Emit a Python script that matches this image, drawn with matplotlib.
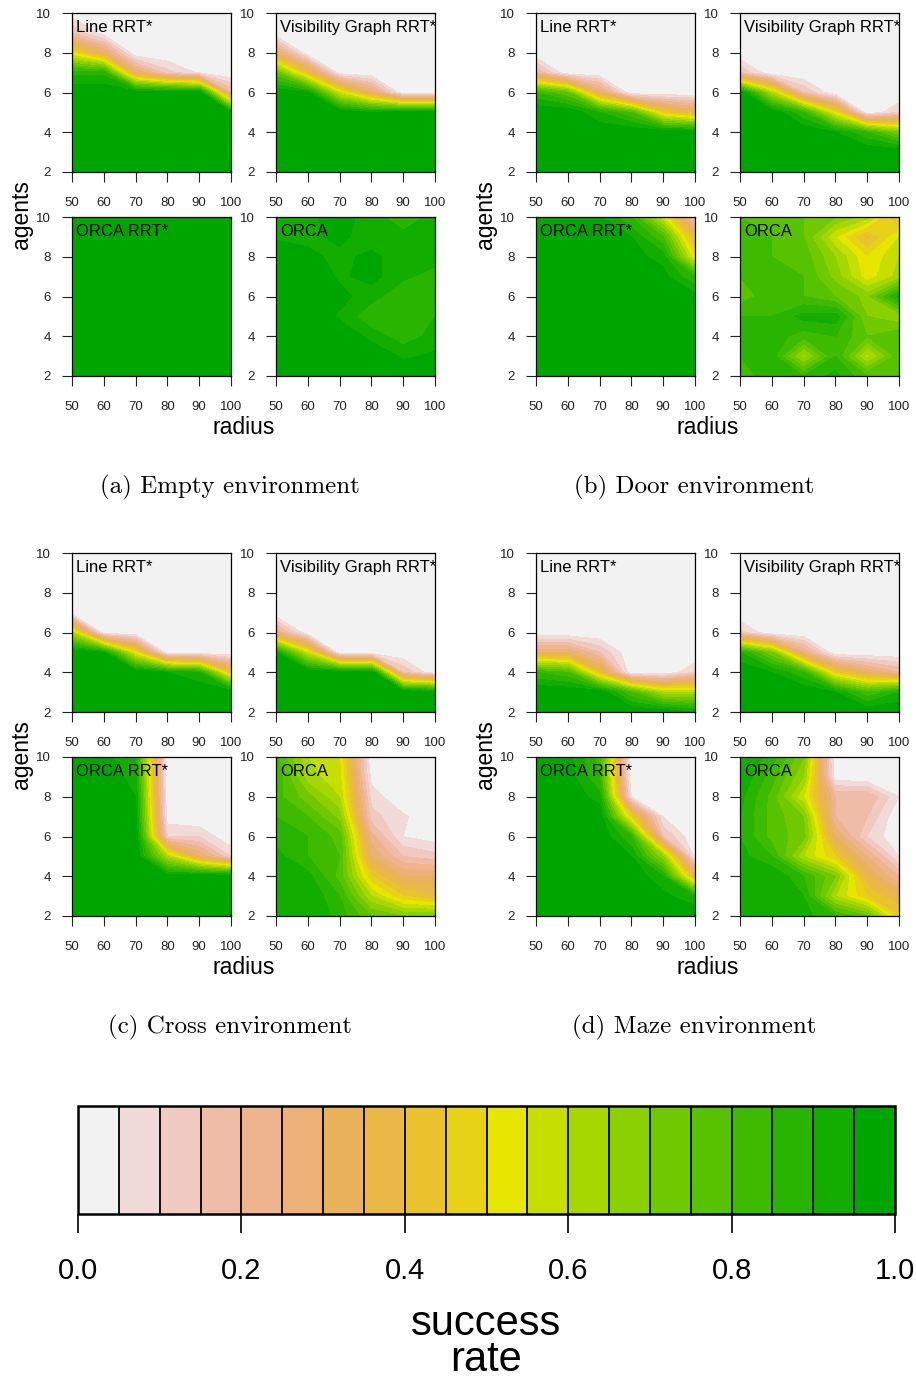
import colorsys
import numpy as np
import matplotlib
matplotlib.use("Agg")
import matplotlib.pyplot as plt
from matplotlib.colors import ListedColormap, BoundaryNorm
import matplotlib.cm as cm

plt.rcParams['font.family'] = ['Liberation Sans', 'DejaVu Sans']

radius = [50, 60, 70, 80, 90, 100]
agents = [2, 3, 4, 5, 6, 7, 8, 9, 10]

# success rate, one row per agent count (2 .. 10), one column per radius (50 .. 100)
empty_line = [
    [1, 1, 1, 1, 1, 1],
    [1, 1, 1, 1, 1, 1],
    [1, 1, 1, 1, 1, 1],
    [1, 1, 1, 1, 1, 0.95],
    [1, 1, 1, 1, 1, 0.2],
    [0.88, 0.88, 0.3, 0.12, 0.04, 0],
    [0.5, 0.3, 0, 0, 0, 0],
    [0.15, 0.02, 0, 0, 0, 0],
    [0.02, 0, 0, 0, 0, 0],
]
empty_vg = [
    [1, 1, 1, 1, 1, 1],
    [1, 1, 1, 1, 1, 1],
    [1, 1, 1, 1, 1, 1],
    [1, 1, 1, 0.95, 1, 1],
    [1, 0.95, 0.55, 0.3, 0, 0],
    [0.75, 0.4, 0.02, 0, 0, 0],
    [0.3, 0, 0, 0, 0, 0],
    [0, 0, 0, 0, 0, 0],
    [0, 0, 0, 0, 0, 0],
]
empty_orca_rrt = [[1, 1, 1, 1, 1, 1] for _ in agents]
empty_orca = [
    [1, 1, 1, 1, 1, 1],
    [1, 1, 1, 1, 0.94, 0.96],
    [1, 1, 1, 0.93, 0.87, 0.92],
    [1, 1, 0.94, 0.86, 0.9, 0.9],
    [1, 1, 0.97, 0.92, 0.86, 0.9],
    [1, 1, 0.94, 0.97, 0.91, 0.88],
    [1, 0.96, 0.94, 0.96, 0.93, 0.92],
    [0.94, 0.94, 0.96, 0.93, 0.92, 0.92],
    [0.93, 0.94, 0.97, 0.93, 0.86, 0.92],
]

door_line = [
    [1, 1, 1, 1, 1, 1],
    [1, 1, 1, 1, 1, 1],
    [1, 1, 1, 1, 1, 1],
    [1, 1, 0.9, 0.8, 0.45, 0.35],
    [0.85, 0.75, 0.3, 0, 0, 0],
    [0.2, 0, 0, 0, 0, 0],
    [0, 0, 0, 0, 0, 0],
    [0, 0, 0, 0, 0, 0],
    [0, 0, 0, 0, 0, 0],
]
door_vg = [
    [1, 1, 1, 1, 1, 1],
    [1, 1, 1, 1, 1, 1],
    [1, 1, 1, 0.95, 0.85, 0.7],
    [1, 1, 0.85, 0.5, 0, 0.1],
    [1, 0.6, 0.15, 0, 0, 0],
    [0.15, 0, 0, 0, 0, 0],
    [0, 0, 0, 0, 0, 0],
    [0, 0, 0, 0, 0, 0],
    [0, 0, 0, 0, 0, 0],
]
door_orca_rrt = [
    [1, 1, 1, 1, 1, 1],
    [1, 1, 1, 1, 1, 1],
    [1, 1, 1, 1, 1, 1],
    [1, 1, 1, 1, 1, 1],
    [1, 1, 1, 1, 1, 0.97],
    [1, 1, 1, 1, 0.97, 0.85],
    [1, 1, 1, 0.97, 0.93, 0.5],
    [1, 1, 1, 0.95, 0.8, 0.35],
    [1, 1, 0.96, 0.85, 0.55, 0.15],
]
door_orca = [
    [0.82, 0.88, 0.85, 0.92, 0.80, 0.78],
    [0.85, 0.88, 0.62, 0.85, 0.58, 0.78],
    [0.88, 0.88, 0.82, 0.85, 0.75, 0.80],
    [0.85, 0.85, 0.92, 0.93, 0.70, 0.65],
    [0.78, 0.82, 0.80, 0.75, 0.68, 0.92],
    [0.80, 0.85, 0.80, 0.68, 0.52, 0.62],
    [0.85, 0.80, 0.78, 0.65, 0.50, 0.60],
    [0.85, 0.80, 0.75, 0.55, 0.38, 0.55],
    [0.80, 0.78, 0.75, 0.70, 0.62, 0.35],
]

cross_line = [
    [1, 1, 1, 1, 1, 1],
    [1, 1, 1, 1, 1, 1],
    [1, 1, 1, 0.95, 0.9, 0.4],
    [1, 0.95, 0.5, 0, 0, 0],
    [0.6, 0, 0, 0, 0, 0],
    [0, 0, 0, 0, 0, 0],
    [0, 0, 0, 0, 0, 0],
    [0, 0, 0, 0, 0, 0],
    [0, 0, 0, 0, 0, 0],
]
cross_vg = [
    [1, 1, 1, 1, 1, 1],
    [1, 1, 1, 1, 1, 1],
    [1, 1, 1, 1, 0.15, 0],
    [0.95, 0.55, 0, 0, 0, 0],
    [0.25, 0, 0, 0, 0, 0],
    [0, 0, 0, 0, 0, 0],
    [0, 0, 0, 0, 0, 0],
    [0, 0, 0, 0, 0, 0],
    [0, 0, 0, 0, 0, 0],
]
cross_orca_rrt = [
    [1, 1, 1, 1, 1, 1],
    [1, 1, 1, 1, 1, 1],
    [1, 1, 1, 0.98, 1, 1],
    [1, 1, 1, 0.6, 0.3, 0.1],
    [1, 1, 1, 0.1, 0.1, 0],
    [1, 1, 0.97, 0.02, 0, 0],
    [1, 1, 0.95, 0, 0, 0],
    [1, 1, 0.92, 0, 0, 0],
    [1, 0.97, 0.9, 0, 0, 0],
]
cross_orca = [
    [0.95, 0.95, 0.88, 0.75, 0.70, 0.70],
    [0.95, 0.95, 0.85, 0.60, 0.45, 0.40],
    [0.95, 0.92, 0.78, 0.45, 0.30, 0.30],
    [0.92, 0.85, 0.80, 0.30, 0.15, 0.12],
    [0.88, 0.85, 0.78, 0.22, 0.05, 0.02],
    [0.85, 0.80, 0.68, 0.12, 0.06, 0.0],
    [0.82, 0.72, 0.60, 0.08, 0.0, 0.0],
    [0.85, 0.62, 0.57, 0.03, 0.0, 0.0],
    [0.82, 0.60, 0.55, 0.0, 0.0, 0.0],
]

maze_line = [
    [1, 1, 1, 1, 1, 0.95],
    [1, 1, 1, 0.8, 0.6, 0.6],
    [0.85, 0.8, 0.4, 0, 0, 0.1],
    [0.3, 0.3, 0.15, 0, 0, 0],
    [0, 0, 0, 0, 0, 0],
    [0, 0, 0, 0, 0, 0],
    [0, 0, 0, 0, 0, 0],
    [0, 0, 0, 0, 0, 0],
    [0, 0, 0, 0, 0, 0],
]
maze_vg = [
    [1, 1, 1, 1, 1, 1],
    [1, 1, 1, 0.95, 0.8, 0.9],
    [1, 0.95, 0.85, 0.45, 0.3, 0.2],
    [0.9, 0.7, 0.25, 0, 0, 0],
    [0.12, 0, 0, 0, 0, 0],
    [0, 0, 0, 0, 0, 0],
    [0, 0, 0, 0, 0, 0],
    [0, 0, 0, 0, 0, 0],
    [0, 0, 0, 0, 0, 0],
]
maze_orca_rrt = [
    [1, 1, 1, 1, 1, 1],
    [1, 1, 1, 1, 0.97, 0.9],
    [1, 1, 1, 1, 0.9, 0.35],
    [1, 1, 1, 0.95, 0.65, 0.03],
    [1, 1, 1, 0.85, 0.15, 0],
    [1, 1, 1, 0.45, 0.05, 0],
    [1, 1, 0.92, 0.05, 0, 0],
    [1, 0.98, 0.85, 0, 0, 0],
    [1, 0.97, 0.83, 0, 0, 0],
]
maze_orca = [
    [0.95, 0.95, 0.92, 0.85, 0.75, 0.45],
    [0.92, 0.95, 0.90, 0.60, 0.45, 0.35],
    [0.92, 0.95, 0.85, 0.70, 0.35, 0.20],
    [0.92, 0.85, 0.60, 0.45, 0.25, 0.05],
    [0.90, 0.78, 0.72, 0.30, 0.10, 0.0],
    [0.90, 0.78, 0.70, 0.20, 0.15, 0.0],
    [0.92, 0.78, 0.55, 0.20, 0.20, 0.05],
    [0.95, 0.82, 0.65, 0.02, 0.0, 0.0],
    [0.95, 0.88, 0.70, 0.0, 0.0, 0.0],
]

planners = ["Line RRT*", "Visibility Graph RRT*", "ORCA RRT*", "ORCA"]
captions = ["(a) Empty environment", "(b) Door environment",
            "(c) Cross environment", "(d) Maze environment"]
environments = [
    [empty_line, empty_vg, empty_orca_rrt, empty_orca],
    [door_line, door_vg, door_orca_rrt, door_orca],
    [cross_line, cross_vg, cross_orca_rrt, cross_orca],
    [maze_line, maze_vg, maze_orca_rrt, maze_orca],
]


def terrain_colors(n):
    # same recipe as R's terrain.colors()
    k = n // 2
    h, s, v = (4 / 12, 2 / 12, 0.0), (1.0, 1.0, 0.0), (0.65, 0.9, 0.95)
    cols = []
    for i in range(k):
        t = i / (k - 1)
        cols.append(colorsys.hsv_to_rgb(h[0] + (h[1] - h[0]) * t,
                                        s[0] + (s[1] - s[0]) * t,
                                        v[0] + (v[1] - v[0]) * t))
    m = n - k + 1
    for i in range(1, m):
        t = i / (m - 1)
        cols.append(colorsys.hsv_to_rgb(h[1] + (h[2] - h[1]) * t,
                                        s[1] + (s[2] - s[1]) * t,
                                        v[1] + (v[2] - v[1]) * t))
    return cols


levels = np.linspace(0, 1, 21)
colors = terrain_colors(20)[::-1]

W, H = 916, 1378
fig = plt.figure(figsize=(W / 100, H / 100), dpi=100)


def px_axes(x0, y0, x1, y1):
    return fig.add_axes([x0 / W, 1 - y1 / H, (x1 - x0) / W, (y1 - y0) / H])


col_left = [72, 276]
row_top = [13, 217]
size = 159

for g, panels in enumerate(environments):
    ox = 464 * (g % 2)
    oy = 540 * (g // 2)
    for p, z in enumerate(panels):
        x0 = col_left[p % 2] + ox
        y0 = row_top[p // 2] + oy
        ax = px_axes(x0, y0, x0 + size, y0 + size)
        ax.contourf(radius, agents, np.array(z), levels=levels, colors=colors)
        ax.set_xlim(50, 100)
        ax.set_ylim(2, 10)
        ax.set_xticks(radius)
        ax.set_yticks([2, 4, 6, 8, 10])
        ax.tick_params(axis='both', direction='out', length=7, width=0.8,
                       labelsize=9.5, colors='#222222')
        ax.tick_params(axis='x', pad=11)
        ax.tick_params(axis='y', pad=8)
        for sp in ax.spines.values():
            sp.set_linewidth(0.9)
        ax.text(0.025, 0.955, planners[p], transform=ax.transAxes,
                ha='left', va='top', fontsize=12)

    fig.text((21 + ox) / W, 1 - (215 + oy) / H, "agents", rotation=90,
             ha='center', va='center', fontsize=16.5)
    fig.text((244 + ox) / W, 1 - (427 + oy) / H, "radius",
             ha='center', va='center', fontsize=16.5)
    fig.text((230 + ox) / W, 1 - (487 + oy) / H, captions[g],
             ha='center', va='center', fontsize=18, family='cmr10')

# shared colour key
cax = px_axes(78, 1106, 895, 1214)
cmap = ListedColormap(colors)
norm = BoundaryNorm(levels, cmap.N)
sm = cm.ScalarMappable(norm=norm, cmap=cmap)
cb = fig.colorbar(sm, cax=cax, orientation='horizontal', drawedges=True,
                  ticks=[0, 0.2, 0.4, 0.6, 0.8, 1.0])
cb.minorticks_off()
cb.ax.xaxis.set_major_formatter('{x:.1f}')
cb.ax.tick_params(length=14, width=1.2, labelsize=21, pad=17)
cb.outline.set_linewidth(1.8)
cb.dividers.set_color('black')
cb.dividers.set_linewidth(1.3)

fig.text(486.5 / W, 1 - 1342 / H, "success\nrate", ha='center', va='center',
         fontsize=30, linespacing=0.85)

fig.savefig("out.png", dpi=100)
